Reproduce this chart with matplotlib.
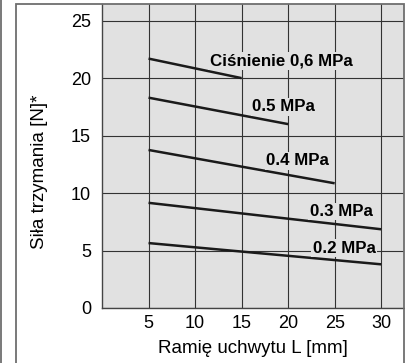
import numpy as np
import matplotlib.pyplot as plt
from matplotlib.lines import Line2D
from matplotlib.patches import Rectangle

plt.rcParams['font.family'] = ['Liberation Sans', 'DejaVu Sans']

# ramie uchwytu L [mm] -> sila trzymania [N]
L_06 = [5, 15]
F_06 = [21.7, 20.0]
L_05 = [5, 20]
F_05 = [18.3, 16.0]
L_04 = [5, 25]
F_04 = [13.75, 10.85]
L_03 = [5, 30]
F_03 = [9.15, 6.85]
L_02 = [5, 30]
F_02 = [5.65, 3.8]

labels = ['Ciśnienie 0,6 MPa', '0.5 MPa', '0.4 MPa', '0.3 MPa', '0.2 MPa']
label_pos = [(19.25, 21.5), (19.5, 17.5), (21.0, 12.8), (25.7, 8.4), (26.0, 5.2)]

x_ticks = [5, 10, 15, 20, 25, 30]
y_ticks = [0, 5, 10, 15, 20, 25]

W, H = 405, 363
fig = plt.figure(figsize=(W / 100, H / 100), dpi=100)

# outer frame
fig.add_artist(Rectangle((16 / W, -0.05), (404 - 16) / W, 1.05 - 4 / H,
                         transform=fig.transFigure, fill=False,
                         edgecolor='#6e6e6e', linewidth=1.3))
fig.add_artist(Line2D([1 / W, 1 / W], [0, 1], transform=fig.transFigure,
                      color='#6e6e6e', linewidth=1.3))

ax = fig.add_axes([102 / W, (H - 308) / H, (404 - 102) / W, (308 - 4) / H])
bg = '#e1e1e1'
ax.set_facecolor(bg)
ax.set_xlim(0, 32.45)
ax.set_ylim(0, 26.45)
ax.set_xticks(x_ticks)
ax.set_yticks(y_ticks)
ax.tick_params(length=0, labelsize=13)
ax.tick_params(axis='y', pad=8)
ax.tick_params(axis='x', pad=5)
ax.grid(True, color='#333333', linewidth=0.8)
ax.set_axisbelow(True)
for s in ['top', 'right']:
    ax.spines[s].set_visible(False)
for s in ['left', 'bottom']:
    ax.spines[s].set_color('#444444')
    ax.spines[s].set_linewidth(1.0)

for xs, ys in [(L_06, F_06), (L_05, F_05), (L_04, F_04), (L_03, F_03), (L_02, F_02)]:
    ax.plot(xs, ys, color='#1a1a1a', linewidth=1.8, solid_capstyle='butt')

for txt, (lx, ly) in zip(labels, label_pos):
    ax.text(lx, ly, txt, ha='center', va='center', fontsize=12.2, fontweight='bold',
            bbox=dict(facecolor=bg, edgecolor='none', pad=1.0))

ax.set_xlabel('Ramię uchwytu L [mm]', fontsize=13.5, labelpad=6)
fig.text(40 / W, 1 - 172 / H, 'Siła trzymania [N]*', rotation=90,
         ha='center', va='center', fontsize=13.5)

fig.savefig('out.png', dpi=100)
